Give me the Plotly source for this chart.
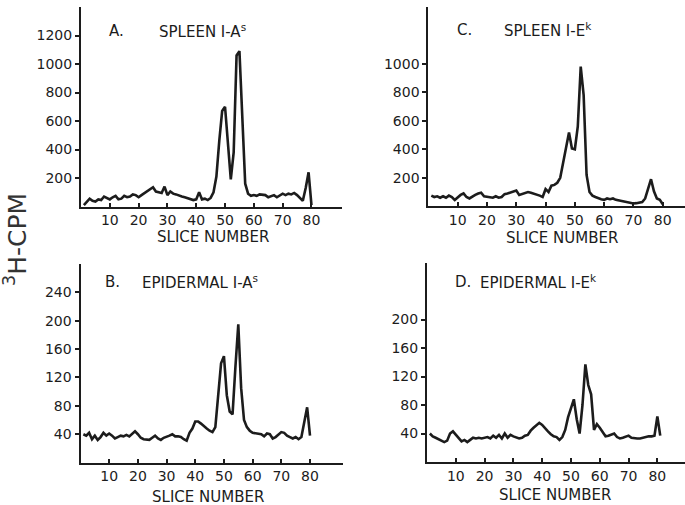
import plotly.graph_objects as go

# ---------------- data ----------------
slices_80 = list(range(1, 81))
slices_81 = list(range(1, 82))

spleen_IAs = [10, 30, 55, 40, 35, 50, 45, 70, 60, 50,
              65, 75, 50, 55, 75, 65, 70, 85, 80, 65,
              80, 95, 110, 125, 135, 105, 100, 95, 140, 80,
              105, 90, 85, 75, 70, 65, 60, 55, 45, 50,
              100, 50, 55, 45, 60, 100, 210, 460, 670, 700,
              440, 190, 380, 1060, 1090, 620, 160, 90, 75, 80,
              75, 85, 85, 80, 65, 70, 80, 65, 80, 90,
              80, 90, 85, 95, 80, 60, 40, 130, 240, 10]

epidermal_IAs = [40, 38, 42, 33, 38, 32, 36, 42, 38, 41,
                 38, 34, 36, 38, 37, 39, 37, 40, 44, 40,
                 35, 33, 32, 32, 35, 38, 34, 32, 35, 36,
                 38, 40, 37, 37, 36, 33, 31, 42, 48, 58,
                 58, 55, 51, 48, 45, 43, 50, 90, 140, 150,
                 95, 72, 68, 135, 195, 105, 60, 50, 45, 42,
                 41, 40, 40, 37, 41, 40, 34, 36, 40, 43,
                 42, 38, 36, 34, 36, 33, 36, 55, 78, 38]

spleen_IEk = [75, 65, 70, 60, 70, 60, 75, 65, 45, 65,
              80, 90, 65, 55, 70, 80, 90, 95, 70, 65,
              65, 60, 70, 60, 65, 85, 90, 95, 100, 110,
              80, 85, 90, 100, 95, 90, 80, 75, 65, 120,
              100, 145, 150, 165, 200, 300, 420, 517, 405, 400,
              560, 980, 780, 220, 100, 75, 65, 55, 50, 45,
              55, 50, 55, 45, 40, 35, 30, 25, 25, 20,
              22, 25, 30, 55, 120, 190, 105, 55, 45, 15]

epidermal_IEk = [40, 36, 34, 32, 30, 28, 30, 40, 43, 38,
                 33, 29, 31, 28, 31, 34, 33, 34, 33, 34,
                 35, 33, 37, 34, 38, 33, 40, 34, 38, 36,
                 35, 33, 34, 37, 38, 44, 48, 52, 55, 52,
                 47, 43, 39, 36, 35, 31, 35, 45, 63, 75,
                 88, 60, 40, 80, 137, 108, 95, 45, 53, 48,
                 42, 36, 37, 39, 40, 35, 33, 34, 35, 37,
                 34, 33, 33, 33, 34, 36, 36, 36, 37, 64, 37]

x_ticks = [10, 20, 30, 40, 50, 60, 70, 80]
yticks_A = [200, 400, 600, 800, 1000, 1200]
yticks_C = [200, 400, 600, 800, 1000]
yticks_B = [40, 80, 120, 160, 200, 240]
yticks_D = [40, 80, 120, 160, 200]

# ---------------- styling ----------------
W, H = 685, 505
INK = "#1c1c1c"
FONT = "DejaVu Sans"


def px(x):
    return x / W


def py(y):
    return 1 - y / H


fig = go.Figure()
line = dict(color=INK, width=2.6)
fig.add_trace(go.Scatter(x=slices_80, y=spleen_IAs, mode="lines", line=line, xaxis="x", yaxis="y"))
fig.add_trace(go.Scatter(x=slices_80, y=spleen_IEk, mode="lines", line=line, xaxis="x2", yaxis="y2"))
fig.add_trace(go.Scatter(x=slices_80, y=epidermal_IAs, mode="lines", line=line, xaxis="x3", yaxis="y3"))
fig.add_trace(go.Scatter(x=slices_81, y=epidermal_IEk, mode="lines", line=line, xaxis="x4", yaxis="y4"))

tickfont = dict(family=FONT, size=14, color=INK)


def xaxis(domain, rng, anchor):
    return dict(domain=domain, range=rng, anchor=anchor, showline=True, linecolor=INK, linewidth=2,
                showgrid=False, zeroline=False, ticks="inside", ticklen=4, tickwidth=1.5,
                tickcolor=INK, tickvals=x_ticks, tickfont=tickfont)


def yaxis(domain, rng, anchor, tv):
    return dict(domain=domain, range=rng, anchor=anchor, showline=True, linecolor=INK, linewidth=2,
                showgrid=False, zeroline=False, ticks="outside", ticklen=4, tickwidth=1.5,
                tickcolor=INK, tickvals=tv, tickfont=tickfont)


fig.update_layout(
    width=W, height=H,
    margin=dict(l=0, r=0, t=0, b=0),
    paper_bgcolor="white", plot_bgcolor="white",
    showlegend=False,
    xaxis=xaxis([px(81), px(342)], [0, 90.6], "y"),
    yaxis=yaxis([py(206.5), py(7)], [0, 1400], "x", yticks_A),
    xaxis2=xaxis([px(428.4), 1.0], [0, 87.6], "y2"),
    yaxis2=yaxis([py(206.3), py(6.7)], [0, 1400], "x2", yticks_C),
    xaxis3=xaxis([px(80.5), px(343)], [0, 91.5], "y3"),
    yaxis3=yaxis([py(462.6), py(264)], [0, 280], "x3", yticks_B),
    xaxis4=xaxis([px(427), 1.0], [0, 89.6], "y4"),
    yaxis4=yaxis([py(462), py(262.5)], [0, 280], "x4", yticks_D),
)

ann_font = dict(family=FONT, size=15, color=INK)
annotations = [
    (107, 31, "A.", "left"), (157, 31, "SPLEEN I-A<sup>s</sup>", "left"),
    (455, 30, "C.", "left"), (502, 30, "SPLEEN I-E<sup>k</sup>", "left"),
    (103, 282, "B.", "left"), (140, 282, "EPIDERMAL I-A<sup>s</sup>", "left"),
    (453, 282, "D.", "left"), (478, 282, "EPIDERMAL I-E<sup>k</sup>", "left"),
    (213, 237, "SLICE NUMBER", "center"), (562, 238, "SLICE NUMBER", "center"),
    (208, 497, "SLICE NUMBER", "center"), (555, 495, "SLICE NUMBER", "center"),
]
for x, y, t, a in annotations:
    fig.add_annotation(x=px(x), y=py(y), xref="paper", yref="paper", text=t, showarrow=False,
                       xanchor=a, yanchor="middle", font=ann_font)

fig.add_annotation(x=px(15), y=py(240), xref="paper", yref="paper", text="<sup>3</sup>H-CPM",
                   showarrow=False, textangle=-90, xanchor="center", yanchor="middle",
                   font=dict(family=FONT, size=25, color="#333333"))

fig.write_html("out.html", config={"displayModeBar": False},
               post_script="document.body.style.margin='0';document.body.style.padding='0';")
